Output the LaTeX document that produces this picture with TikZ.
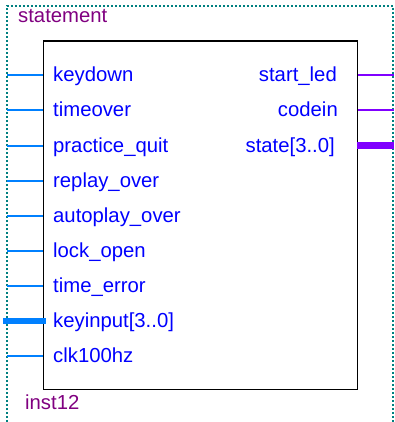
\documentclass[tikz,border=0pt]{standalone}
\usepackage{fontspec}
\setmainfont{Liberation Sans}
\usetikzlibrary{positioning}

\definecolor{pinblue}{RGB}{0,128,255}
\definecolor{pinpurple}{RGB}{128,0,255}
\definecolor{labelblue}{RGB}{0,0,255}
\definecolor{framegreen}{RGB}{0,128,128}
\definecolor{namepurple}{RGB}{128,0,128}

\begin{document}
\begin{tikzpicture}
[x=1pt, y=-1pt,
  every node/.style={inner sep=0pt, font=\fontsize{20.3}{22}\selectfont},
  inlabel/.style={anchor=base west, text=labelblue},
  outlabel/.style={anchor=base east, text=labelblue},
  instname/.style={anchor=base west, text=namepurple},
  inpin/.style={draw=pinblue, line width=2pt},
  inbus/.style={draw=pinblue, line width=6pt},
  outpin/.style={draw=pinpurple, line width=2pt},
  outbus/.style={draw=pinpurple, line width=6pt},
  symbolbox/.style={draw=black, line width=1.8pt, anchor=north west,
    minimum width=314pt, minimum height=348pt}]

\useasboundingbox (0,0) rectangle (394,422);

% instance frame
\draw[framegreen, line width=2pt, dash pattern=on 2pt off 2pt]
  (7,430) -- (7,6) -- (393,6) -- (393,430);
\node[instname] (title) at (18,23) {statement};
\node[instname] (inst) at (25,409) {inst12};

% symbol body
\node[symbolbox] (block) at (42.5,40.5) {};

% input labels
\node[inlabel] (keydown) at (53,82) {keydown};
\node[inlabel] (timeover) at (53,117) {timeover};
\node[inlabel] (quit) at (53,152) {practice\_quit};
\node[inlabel] (replay) at (53,187) {replay\_over};
\node[inlabel] (autoplay) at (53,222) {autoplay\_over};
\node[inlabel] (lock) at (53,257) {lock\_open};
\node[inlabel] (terror) at (53,292) {time\_error};
\node[inlabel] (keyinput) at (53,327) {keyinput[3..0]};
\node[inlabel] (clk) at (53,362) {clk100hz};

% output labels
\node[outlabel] (startled) at (337,82) {start\_led};
\node[outlabel] (codein) at (338,117) {codein};
\node[outlabel] (state) at (335,152) {state[3..0]};

% pin ends
\coordinate (keydown in) at (7,75.5);
\coordinate (timeover in) at (7,110.5);
\coordinate (quit in) at (7,145.5);
\coordinate (replay in) at (7,180.5);
\coordinate (autoplay in) at (7,215.5);
\coordinate (lock in) at (7,250.5);
\coordinate (terror in) at (7,285.5);
\coordinate (keyinput in) at (3,320.5);
\coordinate (clk in) at (7,355.5);
\coordinate (startled out) at (394,75.5);
\coordinate (codein out) at (394,110.5);
\coordinate (state out) at (394,145.5);

% pins
\draw[inpin] (keydown in) -- (keydown in -| block.west);
\draw[inpin] (timeover in) -- (timeover in -| block.west);
\draw[inpin] (quit in) -- (quit in -| block.west);
\draw[inpin] (replay in) -- (replay in -| block.west);
\draw[inpin] (autoplay in) -- (autoplay in -| block.west);
\draw[inpin] (lock in) -- (lock in -| block.west);
\draw[inpin] (terror in) -- (terror in -| block.west);
\draw[inbus] (keyinput in) -- ([xshift=3pt]keyinput in -| block.west);
\draw[inpin] (clk in) -- (clk in -| block.west);
\draw[outpin] (startled out -| block.east) -- (startled out);
\draw[outpin] (codein out -| block.east) -- (codein out);
\draw[outbus] ([xshift=-1pt]state out -| block.east) -- (state out);

\end{tikzpicture}
\end{document}
